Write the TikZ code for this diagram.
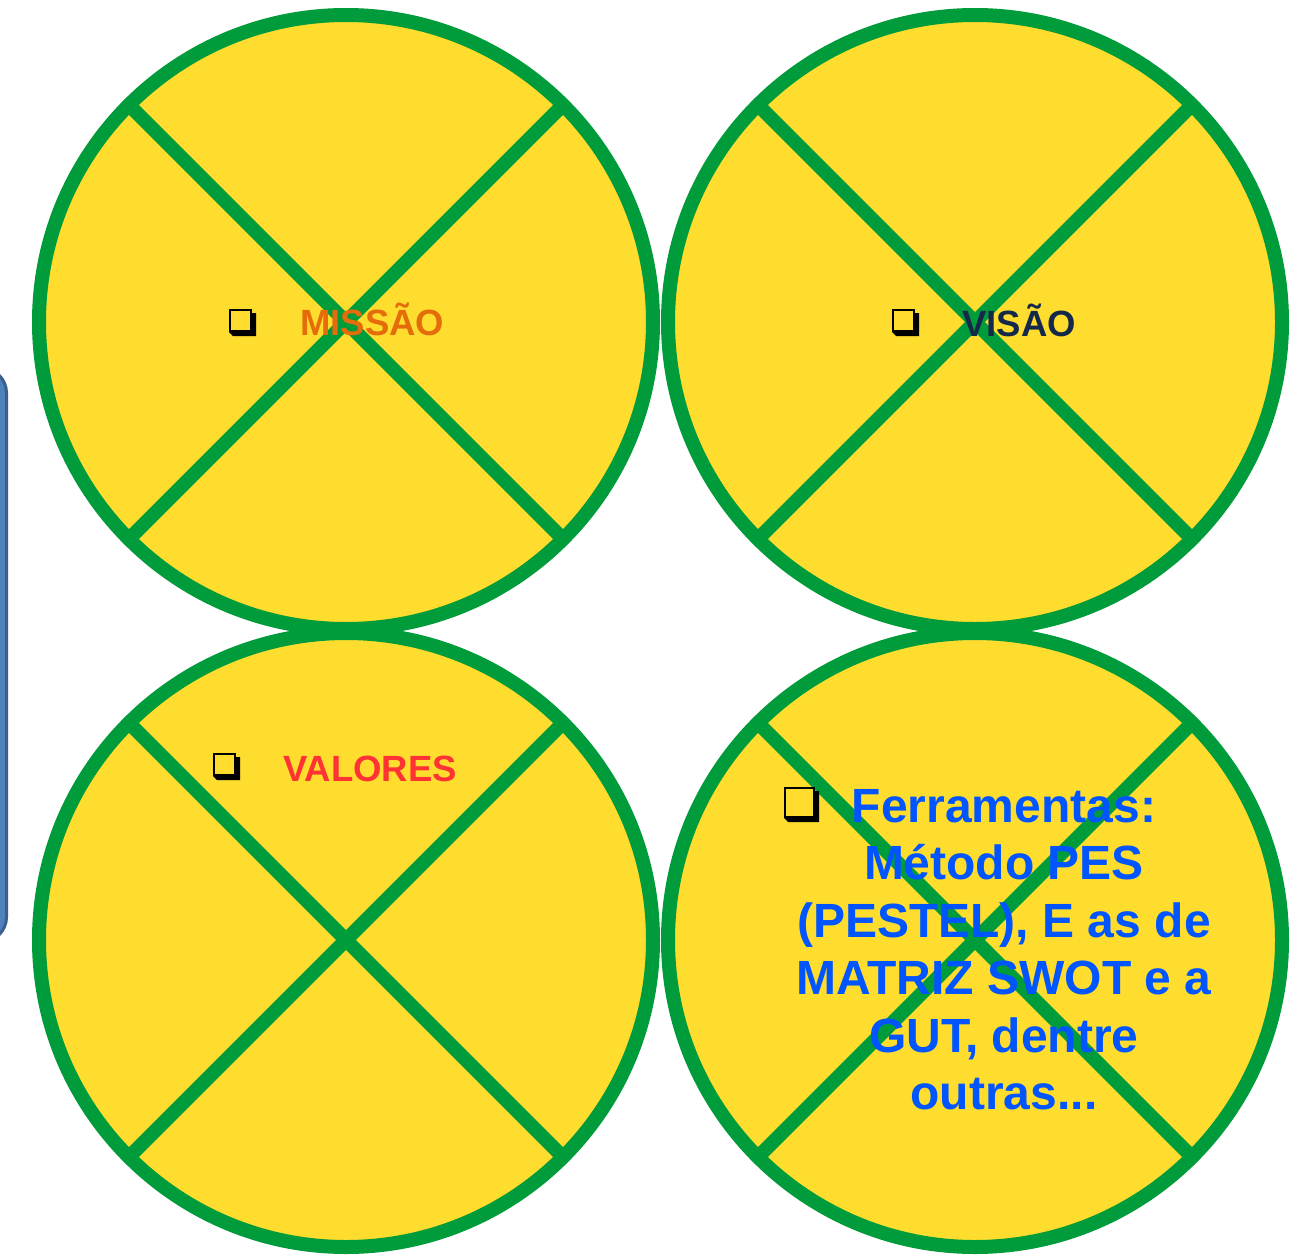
\documentclass[tikz,border=0pt]{standalone}
\usepackage{fontspec}
\setmainfont{Liberation Sans}
\usetikzlibrary{calc}
\definecolor{cgreen}{HTML}{009B3A}
\definecolor{cyellow}{HTML}{FEDD2E}
\definecolor{corange}{HTML}{E46C0A}
\definecolor{cnavy}{HTML}{14284A}
\definecolor{cred}{HTML}{FF3333}
\definecolor{cblue}{HTML}{0055FF}
\definecolor{barfill}{HTML}{4F81BD}
\definecolor{barline}{HTML}{3A5F8F}
\tikzset{
  disc/.style={draw=cgreen, fill=cyellow, line width=14pt},
  xline/.style={draw=cgreen, line width=14pt},
  lbl/.style={font=\bfseries\fontsize{36.5}{40}\selectfont, anchor=base west, inner sep=0pt},
  big/.style={font=\bfseries\fontsize{48}{57.5}\selectfont, align=center, inner sep=0pt, text=cblue}
}
\newcommand{\chk}[3]{% x y size
  \fill[black] (#1+4,#2+4) -- (#1+#3,#2+4) -- (#1+#3,#2+#3) -- (#1+4,#2+#3) -- (#1,#2+#3-4) -- cycle;
  \draw[black, line width=2.2pt, fill=cyellow] (#1+1.1,#2+1.1) rectangle (#1+#3-5.1,#2+#3-5.1);
}
\begin{document}
\begin{tikzpicture}[x=1pt,y=-1pt]
\useasboundingbox (0,0) rectangle (1299,1255);
\fill[white] (0,0) rectangle (1299,1255);
% left bar
\draw[fill=barfill, draw=barline, line width=3pt, rounded corners=25pt] (-60,368) rectangle (6.5,942);
% circles
\foreach \n/\cx/\cy in {tl/346/322, tr/975/322, bl/346/940, br/975/940}{
  \coordinate (\n) at (\cx,\cy);
  \draw[disc] (\n) circle[radius=307];
  \draw[xline] ($(\n)+(45:307)$) -- ($(\n)+(225:307)$);
  \draw[xline] ($(\n)+(135:307)$) -- ($(\n)+(-45:307)$);
}
% labels
\chk{229}{309}{27}
\node[lbl, text=corange] (missao) at (300,335) {MISSÃO};
\chk{892}{309}{27}
\node[lbl, text=cnavy] (visao) at (962,336) {VISÃO};
\chk{213}{753}{27}
\node[lbl, text=cred] (valores) at (283,781) {VALORES};
\chk{784}{787}{35}
\node[big, anchor=north] (ferr) at (1004,789) {Ferramentas:\\Método PES\\(PESTEL), E as de\\MATRIZ SWOT e a\\GUT, dentre\\outras...};
\end{tikzpicture}
\end{document}
